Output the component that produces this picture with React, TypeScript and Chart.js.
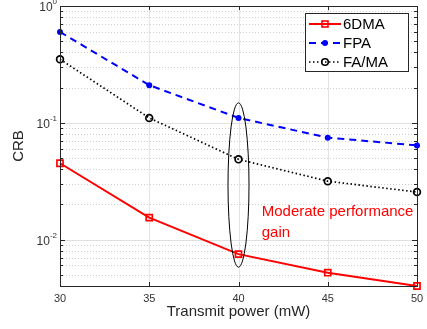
import React, { useEffect, useRef } from "react";
import { Chart, registerables } from "chart.js";
Chart.register(...registerables);

const powers = [30, 35, 40, 45, 50];
const crb6DMA = [0.045, 0.0154, 0.0075, 0.0052, 0.004];
const crbFPA = [0.6, 0.21, 0.11, 0.0746, 0.064];
const crbFAMA = [0.35, 0.11, 0.0486, 0.0316, 0.0255];
const xTicks = [30, 35, 40, 45, 50];
const yDecades = [1, 0.1, 0.01];
const yDecadeExp = ["0", "-1", "-2"];
const yMin = 0.004;
const yMax = 1;
const ellipseX = 40;
const ellipseTop = 0.148;
const ellipseBottom = 0.0058;
const noteX = 41.3;
const noteY = 0.0172;
const noteLines = ["Moderate performance", "gain"];
const legendLabels = ["6DMA", "FPA", "FA/MA"];

const FONT = "'Liberation Sans', Arial, Helvetica, sans-serif";

function minorTicks(): number[] {
  const out: number[] = [];
  for (let e = -3; e <= 0; e++) {
    for (let m = 1; m <= 9; m++) {
      const v = m * Math.pow(10, e);
      if (v >= yMin * 0.999 && v <= yMax * 1.001) out.push(v);
    }
  }
  return out;
}

const colors = ["#ff0000", "#0000ff", "#000000"];
const dashes = [[], [7, 5], [1.5, 2.5]];
const widths = [2, 2, 1.7];
const styles = ["rect", "circleFill", "circle"];

function drawMarker(ctx: CanvasRenderingContext2D, kind: string, x: number, y: number, color: string) {
  ctx.save();
  ctx.setLineDash([]);
  ctx.strokeStyle = color;
  ctx.fillStyle = color;
  ctx.lineWidth = 1.6;
  if (kind === "rect") {
    ctx.strokeRect(x - 3, y - 3, 6, 6);
  } else if (kind === "circleFill") {
    ctx.beginPath();
    ctx.arc(x, y, 3, 0, Math.PI * 2);
    ctx.fill();
  } else {
    ctx.beginPath();
    ctx.arc(x, y, 3.3, 0, Math.PI * 2);
    ctx.stroke();
  }
  ctx.restore();
}

const backgroundPlugin = {
  id: "matlabBg",
  beforeDatasetsDraw(chart: any) {
    const { ctx, chartArea: a, scales } = chart;
    const xs = scales.x;
    const ys = scales.y;
    ctx.save();
    ctx.strokeStyle = "#e3e3e3";
    ctx.lineWidth = 1;
    for (const t of xTicks) {
      const px = Math.round(xs.getPixelForValue(t)) + 0.5;
      ctx.beginPath();
      ctx.moveTo(px, a.top);
      ctx.lineTo(px, a.bottom);
      ctx.stroke();
    }
    const minors = minorTicks();
    for (const v of minors) {
      const py = Math.round(ys.getPixelForValue(v)) + 0.5;
      const isMajor = yDecades.some((d) => Math.abs(d - v) / d < 1e-6);
      ctx.beginPath();
      if (isMajor) {
        ctx.setLineDash([]);
        ctx.strokeStyle = "#e0e0e0";
      } else {
        ctx.setLineDash([1, 2]);
        ctx.strokeStyle = "#cfcfcf";
      }
      ctx.moveTo(a.left, py);
      ctx.lineTo(a.right, py);
      ctx.stroke();
    }
    ctx.setLineDash([]);
    ctx.restore();
  },
  afterDatasetsDraw(chart: any) {
    const { ctx, chartArea: a, scales } = chart;
    const xs = scales.x;
    const ys = scales.y;
    ctx.save();
    ctx.strokeStyle = "#262626";
    ctx.lineWidth = 1;
    ctx.setLineDash([]);
    ctx.strokeRect(Math.round(a.left) + 0.5, Math.round(a.top) + 0.5, Math.round(a.right - a.left), Math.round(a.bottom - a.top));
    for (const t of xTicks) {
      const px = Math.round(xs.getPixelForValue(t)) + 0.5;
      ctx.beginPath();
      ctx.moveTo(px, a.bottom);
      ctx.lineTo(px, a.bottom - 4);
      ctx.moveTo(px, a.top);
      ctx.lineTo(px, a.top + 4);
      ctx.stroke();
    }
    for (const v of minorTicks()) {
      const py = Math.round(ys.getPixelForValue(v)) + 0.5;
      const isMajor = yDecades.some((d) => Math.abs(d - v) / d < 1e-6);
      const len = isMajor ? 5 : 3;
      ctx.beginPath();
      ctx.moveTo(a.left, py);
      ctx.lineTo(a.left + len, py);
      ctx.moveTo(a.right, py);
      ctx.lineTo(a.right - len, py);
      ctx.stroke();
    }
    ctx.fillStyle = "#333333";
    ctx.font = `11px ${FONT}`;
    ctx.textAlign = "center";
    ctx.textBaseline = "middle";
    for (const t of xTicks) {
      ctx.fillText(String(t), xs.getPixelForValue(t), a.bottom + 13);
    }
    yDecades.forEach((d, i) => {
      const py = ys.getPixelForValue(d);
      ctx.font = `8px ${FONT}`;
      const supW = ctx.measureText(yDecadeExp[i]).width;
      ctx.textAlign = "right";
      ctx.textBaseline = "middle";
      ctx.fillText(yDecadeExp[i], a.left - 3, py - 4);
      ctx.font = `12px ${FONT}`;
      ctx.fillText("10", a.left - 3 - supW, py + 2);
    });
    ctx.font = `15px ${FONT}`;
    ctx.fillStyle = "#262626";
    ctx.textAlign = "center";
    ctx.fillText("Transmit power (mW)", (a.left + a.right) / 2, a.bottom + 26);
    ctx.save();
    ctx.translate(19, (a.top + a.bottom) / 2);
    ctx.rotate(-Math.PI / 2);
    ctx.fillText("CRB", 0, 0);
    ctx.restore();

    const ex = xs.getPixelForValue(ellipseX);
    const et = ys.getPixelForValue(ellipseTop);
    const eb = ys.getPixelForValue(ellipseBottom);
    ctx.strokeStyle = "#000";
    ctx.lineWidth = 1;
    ctx.beginPath();
    ctx.ellipse(ex, (et + eb) / 2, 10.5, (eb - et) / 2, 0, 0, Math.PI * 2);
    ctx.stroke();

    ctx.fillStyle = "#ff0000";
    ctx.font = `15px ${FONT}`;
    ctx.textAlign = "left";
    ctx.textBaseline = "middle";
    const nx = xs.getPixelForValue(noteX);
    const ny = ys.getPixelForValue(noteY);
    noteLines.forEach((l, i) => ctx.fillText(l, nx, ny + i * 21));

    const lx = 305, ly = 13, lw = 103, lh = 58;
    ctx.fillStyle = "#fff";
    ctx.fillRect(lx, ly, lw, lh);
    ctx.strokeStyle = "#262626";
    ctx.lineWidth = 1;
    ctx.strokeRect(lx + 0.5, ly + 0.5, lw, lh);
    legendLabels.forEach((lab, i) => {
      const yy = ly + 11 + i * 19;
      ctx.save();
      ctx.strokeStyle = colors[i];
      ctx.lineWidth = widths[i];
      ctx.setLineDash(dashes[i]);
      ctx.beginPath();
      ctx.moveTo(lx + 4, yy);
      ctx.lineTo(lx + 36, yy);
      ctx.stroke();
      ctx.restore();
      drawMarker(ctx, styles[i], lx + 20, yy, colors[i]);
      ctx.fillStyle = "#000";
      ctx.font = `15px ${FONT}`;
      ctx.textAlign = "left";
      ctx.fillText(lab, lx + 38, yy + 1);
    });
    ctx.restore();
  },
};

export default function App() {
  const ref = useRef<HTMLCanvasElement>(null);
  useEffect(() => {
    if (!ref.current) return;
    const mk = (label: string, data: number[], i: number) => ({
      label,
      data: data.map((v, k) => ({ x: powers[k], y: v })),
      borderColor: colors[i],
      backgroundColor: i === 1 ? colors[i] : "rgba(0,0,0,0)",
      borderWidth: widths[i],
      borderDash: dashes[i],
      pointStyle: i === 0 ? "rect" : "circle",
      pointRadius: i === 0 ? 4.3 : i === 1 ? 3 : 3.4,
      pointBorderWidth: i === 1 ? 0 : 1.7,
      pointBackgroundColor: i === 1 ? colors[i] : "rgba(0,0,0,0)",
      pointBorderColor: colors[i],
      tension: 0,
      clip: false as any,
    });
    const chart = new Chart(ref.current, {
      type: "line",
      data: {
        datasets: [mk("6DMA", crb6DMA, 0), mk("FPA", crbFPA, 1), mk("FA/MA", crbFAMA, 2)],
      },
      options: {
        animation: false,
        responsive: false,
        maintainAspectRatio: false,
        layout: { padding: { left: 60, right: 10, top: 4, bottom: 43 } },
        plugins: { legend: { display: false }, tooltip: { enabled: false } },
        scales: {
          x: {
            type: "linear",
            min: 30,
            max: 50,
            ticks: { display: false },
            grid: { display: false },
            border: { display: false },
            afterFit: (s: any) => { s.height = 0; },
          },
          y: {
            type: "logarithmic",
            min: yMin,
            max: yMax,
            ticks: { display: false },
            grid: { display: false },
            border: { display: false },
            afterFit: (s: any) => { s.width = 0; },
          },
        },
      },
      plugins: [backgroundPlugin],
    } as any);
    return () => chart.destroy();
  }, []);
  return (
    <div style={{ position: "fixed", left: 0, top: 0, width: 427, height: 329, background: "#fff" }}>
      <canvas ref={ref} width={427} height={329} style={{ width: 427, height: 329 }} />
    </div>
  );
}
